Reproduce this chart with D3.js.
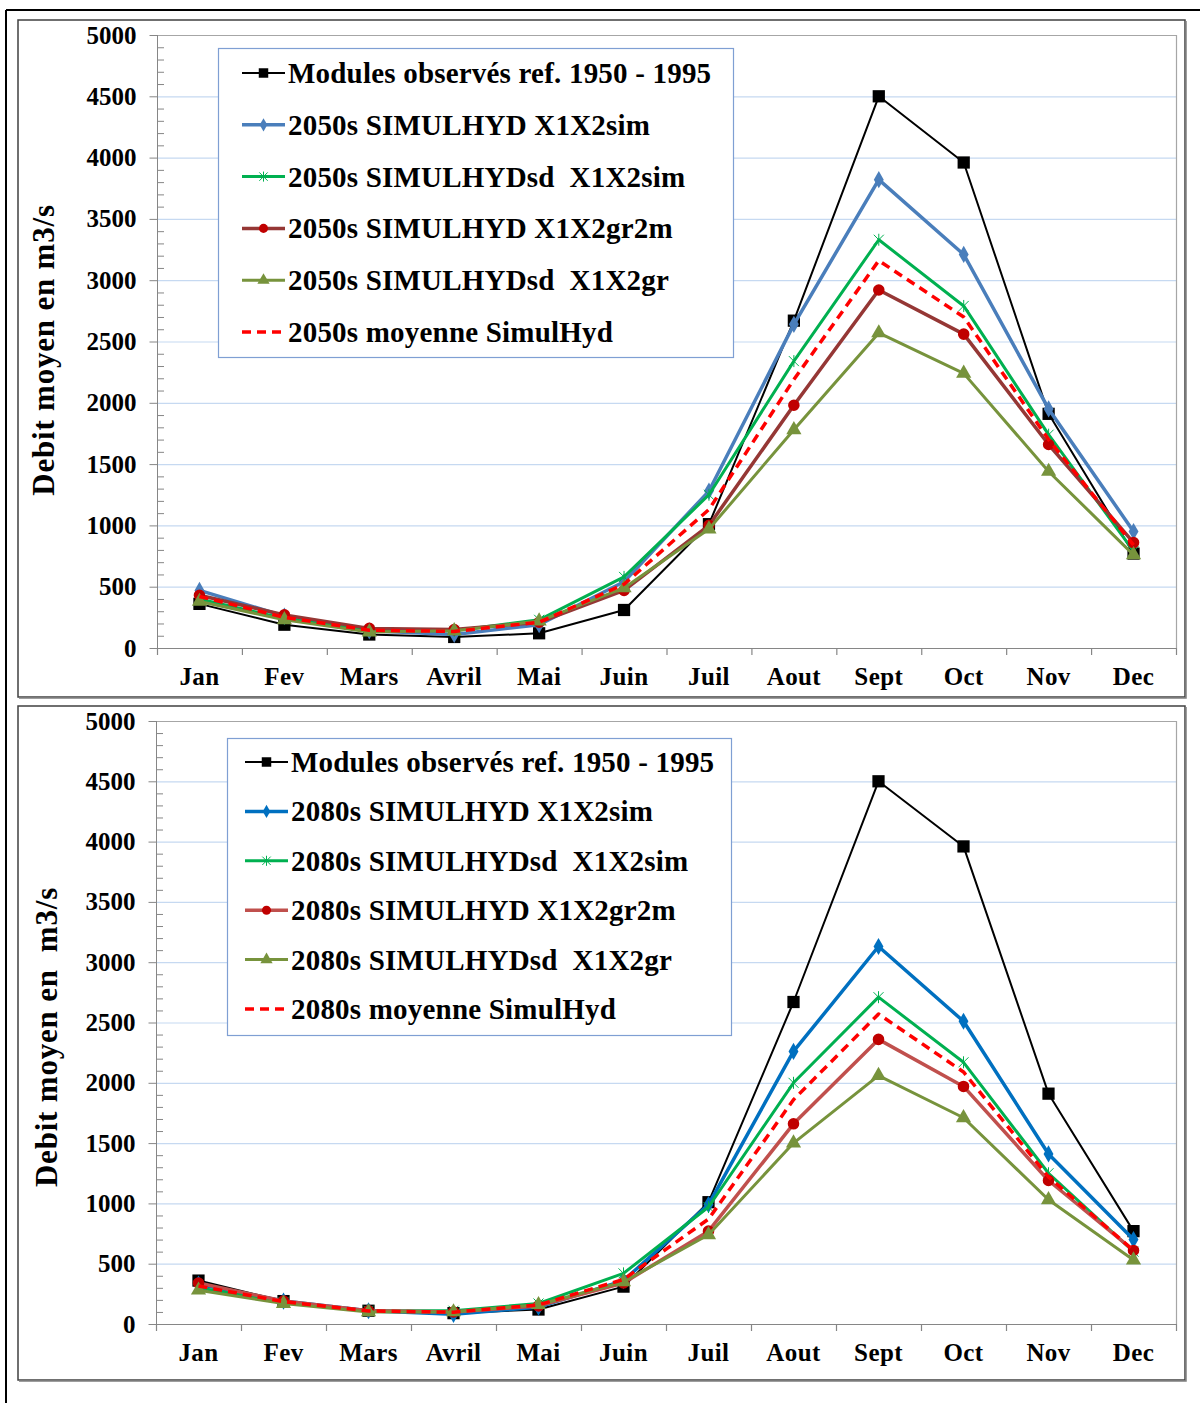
<!DOCTYPE html>
<html><head><meta charset="utf-8">
<script src="https://cdn.jsdelivr.net/npm/d3@7/dist/d3.min.js"></script>
<style>
html,body{margin:0;padding:0;background:#fff;}
svg{display:block;}
text{font-family:"Liberation Serif","Times New Roman",serif;font-weight:bold;fill:#000;}
</style></head>
<body>
<script>
// ---------- DATA ----------
const months = ["Jan","Fev","Mars","Avril","Mai","Juin","Juil","Aout","Sept","Oct","Nov","Dec"];
const yTicks = [0,500,1000,1500,2000,2500,3000,3500,4000,4500,5000];
const yTitles = ["Debit moyen en m3/s", "Debit moyen en  m3/s"];

const observed = [360,190,110,90,120,310,1010,2670,4500,3960,1910,770];

const sim2050  = [470,260,140,110,190,540,1280,2640,3820,3210,1950,950];
const sd2050   = [400,240,140,140,230,580,1250,2340,3330,2790,1740,790];
const gr2m2050 = [430,270,160,150,210,470,1000,1980,2920,2560,1660,860];
const gr2050   = [380,230,130,140,220,490,970,1780,2570,2240,1440,760];
const mean2050 = [420,250,145,135,210,520,1130,2190,3160,2700,1700,840];

const sim2080  = [330,190,110,80,140,360,990,2260,3130,2510,1410,700];
const sd2080   = [300,180,110,110,170,420,970,2000,2710,2170,1250,600];
const gr2m2080 = [340,190,110,100,150,340,770,1660,2360,1970,1190,610];
const gr2080   = [280,170,100,100,160,350,740,1500,2060,1710,1030,530];
const mean2080 = [315,185,108,98,158,370,870,1860,2570,2090,1220,610];

const legend2050 = ["Modules observés ref. 1950 - 1995","2050s SIMULHYD X1X2sim","2050s SIMULHYDsd  X1X2sim","2050s SIMULHYD X1X2gr2m","2050s SIMULHYDsd  X1X2gr","2050s moyenne SimulHyd"];
const legend2080 = ["Modules observés ref. 1950 - 1995","2080s SIMULHYD X1X2sim","2080s SIMULHYDsd  X1X2sim","2080s SIMULHYD X1X2gr2m","2080s SIMULHYDsd  X1X2gr","2080s moyenne SimulHyd"];

// ---------- STYLES ----------
const asteriskX = { draw(ctx, size){ const r = Math.sqrt(size)/2;
  ctx.moveTo(-r,-r); ctx.lineTo(r,r); ctx.moveTo(-r,r); ctx.lineTo(r,-r);
  ctx.moveTo(0,-r*1.2); ctx.lineTo(0,r*1.2); } };

function styles(blue, redLine){
  return [
    {stroke:"#000000", width:2, marker:d3.symbolSquare, msize:150, mfill:"#000000", mstroke:"none", lsize:90},
    {stroke:blue, width:3.5, marker:d3.symbolDiamond, msize:85, mfill:blue, mstroke:"none", lsize:50},
    {stroke:"#00b050", width:3, marker:asteriskX, msize:100, mfill:"none", mstroke:"#00b050", lsize:70, mw:1},
    {stroke:redLine, width:3.5, marker:d3.symbolCircle, msize:105, mfill:"#c00000", mstroke:"none", lsize:65},
    {stroke:"#77933c", width:3, marker:d3.symbolTriangle, msize:100, mfill:"#77933c", mstroke:"none", lsize:65},
    {stroke:"#ff0000", width:3.5, dash:"9,6", marker:null}
  ];
}

const W = 1200, H = 1403;
const svg = d3.select("body").append("svg").attr("width",W).attr("height",H);

// outer frame (top + left)
svg.append("line").attr("x1",6).attr("y1",10).attr("x2",1200).attr("y2",10).attr("stroke","#000").attr("stroke-width",2);
svg.append("line").attr("x1",6).attr("y1",10).attr("x2",6).attr("y2",1403).attr("stroke","#000").attr("stroke-width",2);

function drawChart(cfg){
  const g = svg.append("g");
  // chart frame
  g.append("rect").attr("x",cfg.frame[0]).attr("y",cfg.frame[1])
    .attr("width",cfg.frame[2]-cfg.frame[0]).attr("height",cfg.frame[3]-cfg.frame[1])
    .attr("fill","#fff").attr("stroke","#404040").attr("stroke-width",1.5);
  g.append("path").attr("d",`M${cfg.frame[2]+1},${cfg.frame[1]+1}V${cfg.frame[3]+1}H${cfg.frame[0]+1}`)
    .attr("fill","none").attr("stroke","#7f7f7f").attr("stroke-width",1.5);

  const x = d3.scaleBand().domain(months).range([cfg.plot.left,cfg.plot.right]).padding(0);
  const y = d3.scaleLinear().domain([0,5000]).range([cfg.plot.bottom,cfg.plot.top]);
  const cx = m => x(m) + x.bandwidth()/2;

  // gridlines
  g.append("g").selectAll("line").data(yTicks.filter(v=>v>0 && v<5000)).join("line")
    .attr("x1",cfg.plot.left).attr("x2",cfg.plot.right)
    .attr("y1",d=>y(d)+0.5).attr("y2",d=>y(d)+0.5)
    .attr("stroke","#c6d9f1").attr("stroke-width",1.2);
  // plot border top/right
  g.append("path").attr("d",`M${cfg.plot.left},${y(5000)+0.5}H${cfg.plot.right+0.5}V${cfg.plot.bottom}`)
    .attr("fill","none").attr("stroke","#a6a6a6").attr("stroke-width",1.2);

  // minor ticks (inside)
  const minor = d3.range(0,5001,100).filter(v=>v%500!==0);
  g.append("g").attr("transform",`translate(${cfg.plot.left},0)`)
    .call(d3.axisRight(y).tickValues(minor).tickSize(7).tickFormat(""))
    .call(s=>{s.select(".domain").remove(); s.selectAll("line").attr("stroke","#868686");});

  // y axis
  const ya = g.append("g").attr("transform",`translate(${cfg.plot.left+0.5},0)`)
    .call(d3.axisLeft(y).tickValues(yTicks).tickFormat(d3.format("d")).tickSize(8).tickPadding(13).tickSizeOuter(0));
  ya.select(".domain").attr("stroke","#868686").attr("d",`M0,${cfg.plot.top}V${cfg.plot.bottom+7}`);
  ya.selectAll(".tick line").attr("stroke","#868686");
  ya.selectAll(".tick text").attr("font-size",25).attr("font-family","Liberation Serif").attr("font-weight","bold").attr("fill","#000");

  // x axis
  const xa = g.append("g").attr("transform",`translate(0,${cfg.plot.bottom+0.5})`)
    .call(d3.axisBottom(x).tickSize(0).tickPadding(19));
  xa.select(".domain").attr("stroke","#868686").attr("d",`M${cfg.plot.left},0H${cfg.plot.right+0.5}`);
  xa.selectAll(".tick text").attr("font-size",25).attr("letter-spacing",0.4).attr("font-family","Liberation Serif").attr("font-weight","bold").attr("fill","#000");
  const bounds = months.map(m=>x(m)).concat([x.range()[1]]);
  g.append("g").selectAll("line").data(bounds).join("line")
    .attr("x1",d=>d+0.5).attr("x2",d=>d+0.5)
    .attr("y1",cfg.plot.bottom).attr("y2",cfg.plot.bottom+7)
    .attr("stroke","#868686").attr("stroke-width",1.2);

  // y title
  g.append("text").attr("transform",`translate(${cfg.titleX},${cfg.titleY}) rotate(-90)`)
    .attr("text-anchor","middle").attr("dominant-baseline","middle")
    .attr("font-size",31).attr("letter-spacing",0.8).style("white-space","pre").text(cfg.title);

  // series
  const st = cfg.styles;
  const line = d3.line().x((d,i)=>cx(months[i])).y(d=>y(d));
  cfg.series.forEach((s,k)=>{
    const sty = st[k];
    g.append("path").datum(s).attr("d",line).attr("fill","none")
      .attr("stroke",sty.stroke).attr("stroke-width",sty.width)
      .attr("stroke-linejoin","round")
      .attr("stroke-dasharray",sty.dash||null);
    if(sty.marker){
      g.append("g").selectAll("path").data(s).join("path")
        .attr("transform",(d,i)=>`translate(${cx(months[i])},${y(d)})`)
        .attr("d",d3.symbol().type(sty.marker).size(sty.msize))
        .attr("fill",sty.mfill).attr("stroke",sty.mstroke).attr("stroke-width",sty.mw||1);
    }
  });

  // legend
  const L = cfg.legend;
  g.append("rect").attr("x",L.x0+0.5).attr("y",L.y0+0.5).attr("width",L.x1-L.x0).attr("height",L.y1-L.y0)
    .attr("fill","#fff").attr("stroke","#7f9fd3").attr("stroke-width",1.2);
  cfg.labels.forEach((lab,k)=>{
    const sty = st[k];
    const yy = L.row0 + k*L.dy;
    g.append("line").attr("x1",L.lx0).attr("x2",L.lx1).attr("y1",yy).attr("y2",yy)
      .attr("stroke",sty.stroke).attr("stroke-width",sty.width)
      .attr("stroke-dasharray",sty.dash||null);
    if(sty.marker){
      g.append("path").attr("transform",`translate(${(L.lx0+L.lx1)/2},${yy})`)
        .attr("d",d3.symbol().type(sty.marker).size(sty.lsize))
        .attr("fill",sty.mfill).attr("stroke",sty.mstroke).attr("stroke-width",sty.mw||1);
    }
    g.append("text").attr("x",L.lx1+3).attr("y",yy).attr("dominant-baseline","central")
      .attr("font-size",29).attr("letter-spacing",0.2).style("white-space","pre").text(lab);
  });
}

drawChart({
  frame:[18,20,1185,697],
  plot:{left:157,right:1176,top:35,bottom:648},
  title:yTitles[0], titleX:47, titleY:350,
  series:[observed,sim2050,sd2050,gr2m2050,gr2050,mean2050],
  labels:legend2050,
  styles:styles("#4a7ebb","#953735"),
  legend:{x0:218,y0:48,x1:733,y1:357,row0:73,dy:51.8,lx0:242,lx1:285}
});
drawChart({
  frame:[18,706,1185,1380],
  plot:{left:156,right:1176,top:721,bottom:1324},
  title:yTitles[1], titleX:50, titleY:1037,
  series:[observed,sim2080,sd2080,gr2m2080,gr2080,mean2080],
  labels:legend2080,
  styles:styles("#0070c0","#c0504d"),
  legend:{x0:227,y0:738,x1:731,y1:1035,row0:762,dy:49.4,lx0:245,lx1:288}
});
</script>
</body></html>
